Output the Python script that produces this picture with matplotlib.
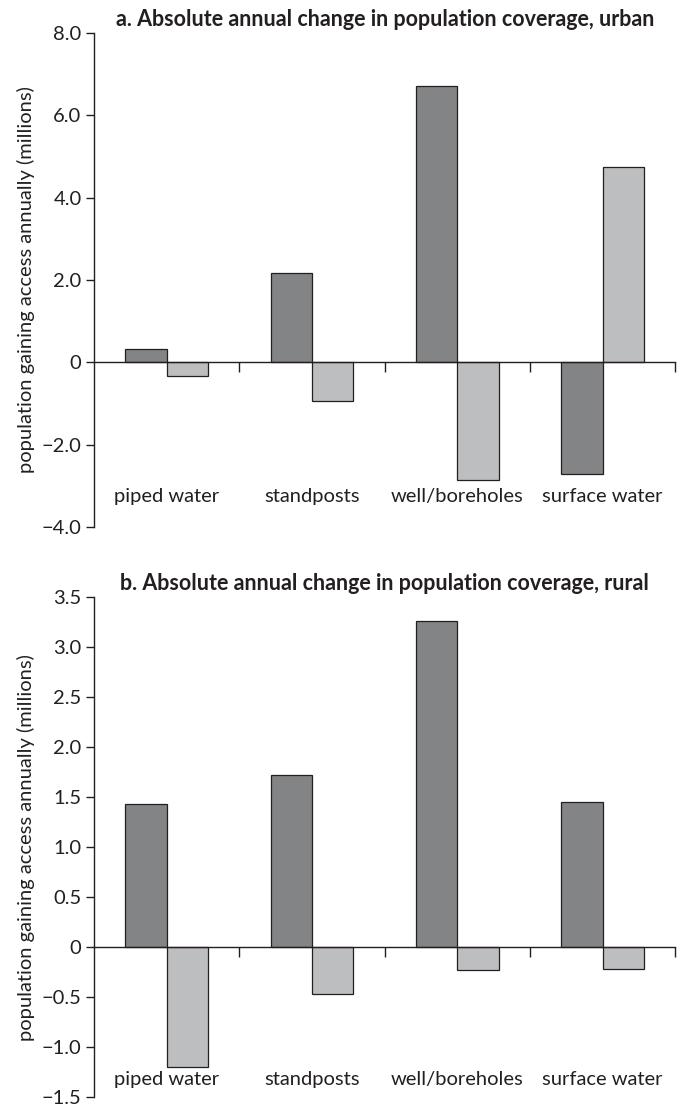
import numpy as np
import matplotlib
matplotlib.use("Agg")
import matplotlib.pyplot as plt
from matplotlib.ticker import FuncFormatter

plt.rcParams['font.family'] = ['Lato', 'DejaVu Sans']

# data (millions of people per year)
categories = ["piped water", "standposts", "well/boreholes", "surface water"]
urban_dark = [0.33, 2.16, 6.70, -2.72]
urban_light = [-0.32, -0.94, -2.86, 4.74]
rural_dark = [1.43, 1.72, 3.26, 1.45]
rural_light = [-1.20, -0.47, -0.23, -0.22]

urban_ticks = [-4.0, -2.0, 0.0, 2.0, 4.0, 6.0, 8.0]
rural_ticks = [-1.5, -1.0, -0.5, 0.0, 0.5, 1.0, 1.5, 2.0, 2.5, 3.0, 3.5]

titles = ["a. Absolute annual change in population coverage, urban",
          "b. Absolute annual change in population coverage, rural"]
ylab = "population gaining access annually (millions)"

dark_col = "#838486"
light_col = "#bdbebf"
edge_col = "#231f20"


def fmt(v, pos):
    if abs(v) < 1e-9:
        return "0"
    return f"{v:.1f}".replace("-", "\u2212")


fig = plt.figure(figsize=(6.87, 11.06), dpi=100)
ax_a = fig.add_axes([0.137, 0.5235, 0.846, 0.4467])
ax_b = fig.add_axes([0.137, 0.008, 0.846, 0.452])

panels = [(ax_a, urban_dark, urban_light, urban_ticks, 0.062),
          (ax_b, rural_dark, rural_light, rural_ticks, 0.036)]

x = np.arange(len(categories))
w = 0.285
for (ax, dark, light, ticks, lab_y), title in zip(panels, titles):
    ax.bar(x - w / 2, dark, w, color=dark_col, edgecolor=edge_col, linewidth=0.9, zorder=2)
    ax.bar(x + w / 2, light, w, color=light_col, edgecolor=edge_col, linewidth=0.9, zorder=2)
    ax.set_xlim(-0.5, len(categories) - 0.5)
    ax.set_ylim(ticks[0], ticks[-1])
    ax.set_yticks(ticks)
    ax.yaxis.set_major_formatter(FuncFormatter(fmt))

    # category axis sits on the zero line, ticks at category boundaries
    ax.spines['top'].set_visible(False)
    ax.spines['right'].set_visible(False)
    ax.spines['bottom'].set_position(('data', 0))
    ax.spines['bottom'].set_zorder(3)
    for s in ['left', 'bottom']:
        ax.spines[s].set_color(edge_col)
        ax.spines[s].set_linewidth(1.0)
    ax.set_xticks(x + 0.5)
    ax.set_xticklabels([])
    ax.tick_params(axis='x', direction='out', length=7, width=1.0, color=edge_col)
    ax.tick_params(axis='y', direction='out', length=6, width=1.0, color=edge_col,
                   labelsize=14.5, labelcolor=edge_col, pad=3)

    for i, c in enumerate(categories):
        ax.text(i, lab_y, c, transform=ax.get_xaxis_transform(), ha='center',
                va='center', fontsize=14.5, color=edge_col)

    ax.set_title(title, fontsize=15.5, fontweight='bold', color=edge_col, pad=5)
    ax.set_ylabel(ylab, fontsize=14.5, color=edge_col, labelpad=5)

fig.savefig("out.png", dpi=100)
